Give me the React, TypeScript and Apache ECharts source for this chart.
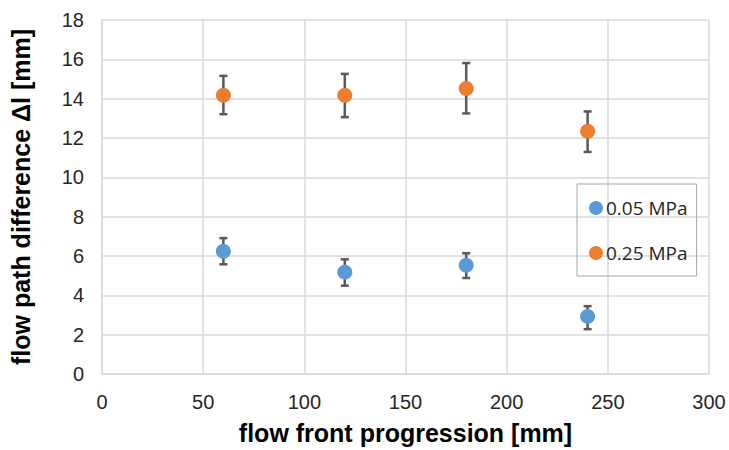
import React, { useEffect, useRef } from "react";
import * as echarts from "echarts";

const xValues = [60, 120, 180, 240];
const mean005 = [6.24, 5.18, 5.53, 2.93];
const upper005 = [6.91, 5.83, 6.14, 3.45];
const lower005 = [5.58, 4.49, 4.88, 2.28];
const mean025 = [14.17, 14.17, 14.52, 12.34];
const upper025 = [15.16, 15.26, 15.81, 13.35];
const lower025 = [13.21, 13.06, 13.25, 11.29];
const seriesNames = ["0.05 MPa", "0.25 MPa"];
const colors = ["#5b9bd5", "#ed7d31"];

const errorData = (lo: number[], hi: number[]) =>
  xValues.map((x, i) => [x, lo[i], hi[i]]);

const renderError = (params: any, api: any) => {
  const x = api.value(0);
  const lo = api.coord([x, api.value(1)]);
  const hi = api.coord([x, api.value(2)]);
  const cap = 4;
  const style = { stroke: "#595959", lineWidth: 2.5 };
  return {
    type: "group",
    children: [
      { type: "line", shape: { x1: lo[0], y1: lo[1], x2: hi[0], y2: hi[1] }, style },
      { type: "line", shape: { x1: hi[0] - cap, y1: hi[1], x2: hi[0] + cap, y2: hi[1] }, style },
      { type: "line", shape: { x1: lo[0] - cap, y1: lo[1], x2: lo[0] + cap, y2: lo[1] }, style },
    ],
  };
};

export default function App() {
  const ref = useRef<HTMLDivElement>(null);
  useEffect(() => {
    if (!ref.current) return;
    const chart = echarts.init(ref.current, undefined, { renderer: "svg" });
    chart.setOption({
      animation: false,
      backgroundColor: "#ffffff",
      grid: { left: 101, right: 20, top: 20, bottom: 73 },
      legend: {
        data: seriesNames,
        orient: "vertical",
        left: 577,
        top: 184,
        borderColor: "#a6a6a6",
        borderWidth: 1,
        borderRadius: 0,
        padding: [13, 9, 12, 12],
        itemGap: 23,
        itemWidth: 14,
        itemHeight: 14,
        icon: "circle",
        textStyle: { fontFamily: "Open Sans", fontSize: 19, color: "#262626", lineHeight: 22, padding: [0, 0, 0, -2] },
      },
      xAxis: {
        type: "value",
        min: 0,
        max: 300,
        interval: 50,
        name: "flow front progression [mm]",
        nameLocation: "middle",
        nameGap: 46,
        nameTextStyle: { fontFamily: "Liberation Sans", fontSize: 25, fontWeight: "bold", color: "#000" },
        axisLine: { show: true, lineStyle: { color: "#d9d9d9", width: 1.5 } },
        axisTick: { show: false },
        axisLabel: { fontFamily: "Liberation Sans", fontSize: 20, color: "#262626", margin: 18 },
        splitLine: { show: true, lineStyle: { color: "#d9d9d9", width: 1.5 } },
      },
      yAxis: {
        type: "value",
        min: 0,
        max: 18,
        interval: 2,
        name: "flow path difference Δl [mm]",
        nameLocation: "middle",
        nameGap: 69,
        nameTextStyle: { fontFamily: "Liberation Sans", fontSize: 25, fontWeight: "bold", color: "#000" },
        axisLine: { show: true, lineStyle: { color: "#d9d9d9", width: 1.5 } },
        axisTick: { show: false },
        axisLabel: { fontFamily: "Liberation Sans", fontSize: 20, color: "#262626", margin: 18 },
        splitLine: { show: true, lineStyle: { color: "#d9d9d9", width: 1.5 } },
      },
      series: [
        {
          type: "custom",
          name: "err005",
          renderItem: renderError,
          data: errorData(lower005, upper005),
          z: 1,
          encode: { x: 0, y: [1, 2] },
        },
        {
          type: "custom",
          name: "err025",
          renderItem: renderError,
          data: errorData(lower025, upper025),
          z: 1,
          encode: { x: 0, y: [1, 2] },
        },
        {
          type: "scatter",
          name: seriesNames[0],
          data: xValues.map((x, i) => [x, mean005[i]]),
          symbolSize: 15,
          itemStyle: { color: colors[0], opacity: 1 },
          z: 2,
        },
        {
          type: "scatter",
          name: seriesNames[1],
          data: xValues.map((x, i) => [x, mean025[i]]),
          symbolSize: 15,
          itemStyle: { color: colors[1], opacity: 1 },
          z: 2,
        },
      ],
    });
    return () => chart.dispose();
  }, []);
  return <div ref={ref} style={{ width: 729, height: 450, position: "absolute", left: 0, top: 0 }} />;
}
